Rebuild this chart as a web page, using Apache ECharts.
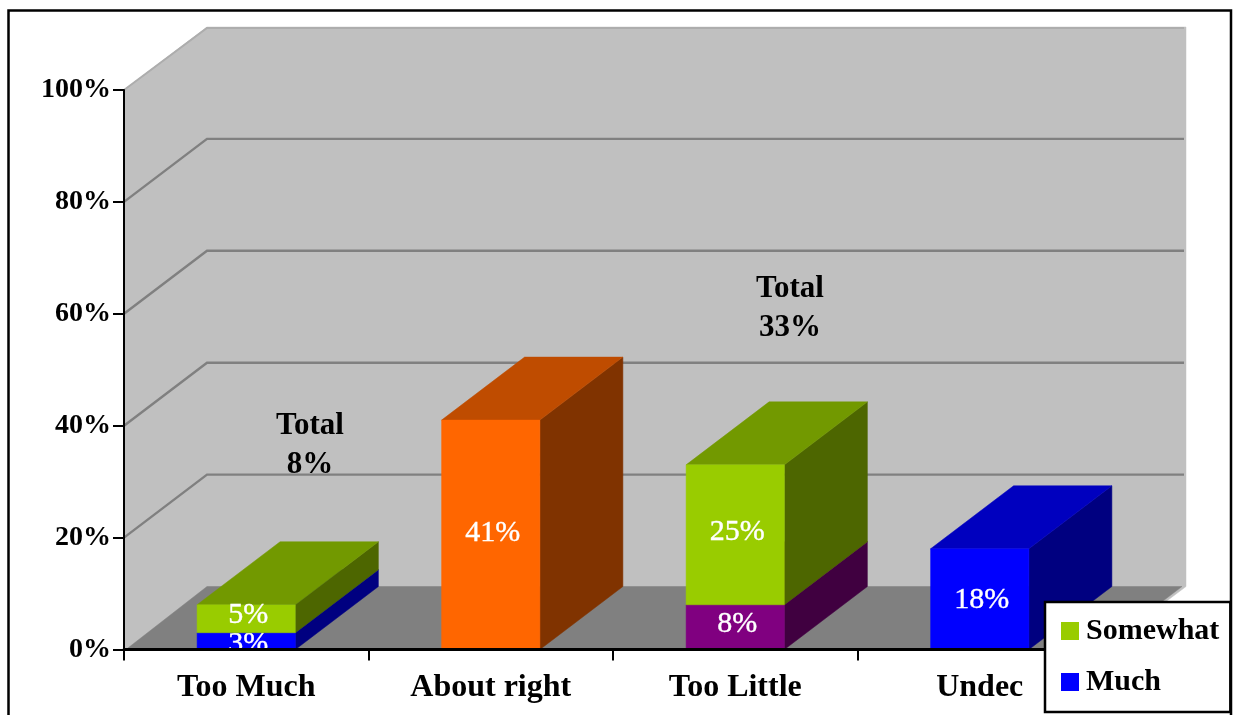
<!DOCTYPE html>
<html>
<head>
<meta charset="utf-8">
<title>Too Much, About right, Too Little</title>
<script src="https://cdn.jsdelivr.net/npm/echarts@6/dist/echarts.min.js"></script>
<style>
  html, body { margin: 0; padding: 0; background: #fff; }
  #chart { width: 1235px; height: 715px; }
</style>
</head>
<body>
<div id="chart"></div>
<script>
// Survey results, in percent
const categories = ['Too Much', 'About right', 'Too Little', 'Undec'];
const muchValues = [3, 41, 8, 18];
const somewhatValues = [5, null, 25, null];
const gridValues = [20, 40, 60, 80];
const yMax = 100;

// Front, top and side shades for each segment
const muchPalette = [
  ['#0000FF', '#0000BF', '#000080'],
  ['#FF6600', '#BF4C00', '#803300'],
  ['#800080', '#600060', '#400040'],
  ['#0000FF', '#0000BF', '#000080']
];
const somewhatPalette = [
  ['#99CC00', '#729900', '#4D6600'],
  null,
  ['#99CC00', '#729900', '#4D6600'],
  null
];

// Vertical nudge for the value labels inside each segment
const muchLabelNudge = [3, -2, -3, 1];
const somewhatLabelNudge = [-4, 0, -3, 0];

// Oblique projection used for the box depth
const DEPTH_X = 83;
const DEPTH_Y = -63;
const BAR_SHARE = 0.402;
const SERIF = '"Liberation Serif", serif';

function poly(points, fill) {
  return { type: 'polygon', shape: { points }, style: { fill, stroke: fill, lineWidth: 0.5 } };
}

// Draws one stacked segment as a front face, a top face and a side face
function renderSegment(palette, labelNudge) {
  return function (params, api) {
    const idx = api.value(0);
    const low = api.value(1);
    const high = api.value(2);
    if (isNaN(high) || !palette[idx]) return;
    const half = api.size([1, 0])[0] * BAR_SHARE / 2;
    const a = api.coord([idx, low]);
    const b = api.coord([idx, high]);
    const x0 = a[0] - half, x1 = a[0] + half;
    const [front, top, side] = palette[idx];
    const plot = params.coordSys;
    return {
      type: 'group',
      children: [
        poly([[x1, b[1]], [x1 + DEPTH_X, b[1] + DEPTH_Y], [x1 + DEPTH_X, a[1] + DEPTH_Y], [x1, a[1]]], side),
        poly([[x0, b[1]], [x0 + DEPTH_X, b[1] + DEPTH_Y], [x1 + DEPTH_X, b[1] + DEPTH_Y], [x1, b[1]]], top),
        poly([[x0, a[1]], [x0, b[1]], [x1, b[1]], [x1, a[1]]], front),
        {
          type: 'group',
          clipPath: { type: 'rect', shape: { x: x0, y: b[1] - 10, width: x1 - x0, height: plot.y + plot.height - b[1] + 10 } },
          children: [{
            type: 'text',
            x: a[0] + 2,
            y: (a[1] + b[1]) / 2 + labelNudge[idx],
            style: {
              text: (high - low) + '%',
              fill: '#fff',
              stroke: '#fff',
              lineWidth: 0.4,
              font: '30px ' + SERIF,
              align: 'center',
              verticalAlign: 'middle'
            }
          }]
        }
      ]
    };
  };
}

// Back wall, side wall, floor and the gridlines running across them
function renderRoom(params, api) {
  const p = params.coordSys;
  const left = p.x, right = p.x + p.width, top = p.y, bottom = p.y + p.height;
  const children = [
    poly([[left, top], [left + DEPTH_X, top + DEPTH_Y], [right + DEPTH_X + 1, top + DEPTH_Y],
          [right + DEPTH_X + 1, bottom + DEPTH_Y], [right, bottom], [left, bottom]], '#C0C0C0'),
    poly([[left + 2, bottom], [left + DEPTH_X, bottom + DEPTH_Y], [right + DEPTH_X - 3, bottom + DEPTH_Y], [right - 3, bottom]], '#808080'),
    {
      type: 'polyline',
      shape: { points: [[left, top], [left + DEPTH_X, top + DEPTH_Y + 1], [right + DEPTH_X - 1, top + DEPTH_Y + 1]] },
      style: { stroke: '#ADADAD', lineWidth: 2, fill: 'none' }
    }
  ];
  gridValues.forEach(function (v) {
    const y = api.coord([0, v])[1];
    children.push({
      type: 'polyline',
      shape: { points: [[left, y], [left + DEPTH_X, y + DEPTH_Y], [right + DEPTH_X - 1, y + DEPTH_Y]] },
      style: { stroke: '#808080', lineWidth: 2.4, fill: 'none' }
    });
  });
  return { type: 'group', children };
}

function segmentData(lower, upper) {
  return categories.map(function (c, i) {
    if (upper[i] == null) return [i, null, null];
    const base = lower ? (lower[i] || 0) : 0;
    return [i, base, base + upper[i]];
  });
}

const chart = echarts.init(document.getElementById('chart'), null, { renderer: 'canvas' });

chart.setOption({
  animation: false,
  backgroundColor: '#fff',
  textStyle: { fontFamily: SERIF },
  grid: { left: 124, top: 90, right: 133, bottom: 65.5 },
  graphic: [
    {
      type: 'rect',
      z: 0,
      shape: { x: 8.5, y: 10.5, width: 1222.5, height: 740 },
      style: { fill: 'none', stroke: '#000', lineWidth: 2.5 }
    },
    {
      type: 'text', z: 10, x: 310, y: 445,
      style: { text: 'Total\n8%', fill: '#000', font: 'bold 31px ' + SERIF, lineHeight: 39, align: 'center', verticalAlign: 'middle' }
    },
    {
      type: 'text', z: 10, x: 790, y: 308,
      style: { text: 'Total\n33%', fill: '#000', font: 'bold 31px ' + SERIF, lineHeight: 39, align: 'center', verticalAlign: 'middle' }
    }
  ],
  legend: {
    z: 20,
    left: 1045,
    top: 602,
    orient: 'vertical',
    data: [
      { name: 'Somewhat', icon: 'rect' },
      { name: 'Much', icon: 'rect' }
    ],
    selectedMode: false,
    backgroundColor: '#fff',
    borderColor: '#000',
    borderWidth: 2.5,
    borderRadius: 0,
    itemWidth: 18,
    itemHeight: 18,
    itemGap: 21,
    padding: [14, 11, 15, 16],
    textStyle: { fontFamily: SERIF, fontWeight: 'bold', fontSize: 30, color: '#000', padding: [2, 0, 0, 2] }
  },
  xAxis: {
    type: 'category',
    data: categories,
    z: 5,
    axisLine: { lineStyle: { color: '#000', width: 3 } },
    axisTick: { show: true, length: 11, lineStyle: { color: '#000', width: 2 } },
    axisLabel: { color: '#000', fontFamily: SERIF, fontWeight: 'bold', fontSize: 32, margin: 22 }
  },
  yAxis: {
    type: 'value',
    min: 0,
    max: yMax,
    interval: 20,
    z: 5,
    splitLine: { show: false },
    axisLine: { show: true, lineStyle: { color: '#000', width: 2 } },
    axisTick: { show: true, length: 11, lineStyle: { color: '#000', width: 2 } },
    axisLabel: { color: '#000', fontFamily: SERIF, fontWeight: 'bold', fontSize: 28, margin: 13, padding: [3, 0, 0, 0], formatter: '{value}%' }
  },
  series: [
    {
      type: 'custom',
      name: 'Room',
      z: 1,
      silent: true,
      data: [[0, 0]],
      renderItem: renderRoom,
      encode: { x: 0, y: 1 }
    },
    {
      type: 'custom',
      name: 'Much',
      z: 2,
      itemStyle: { color: '#0000FF' },
      data: segmentData(null, muchValues),
      renderItem: renderSegment(muchPalette, muchLabelNudge),
      encode: { x: 0, y: [1, 2] }
    },
    {
      type: 'custom',
      name: 'Somewhat',
      z: 2,
      itemStyle: { color: '#99CC00' },
      data: segmentData(muchValues, somewhatValues),
      renderItem: renderSegment(somewhatPalette, somewhatLabelNudge),
      encode: { x: 0, y: [1, 2] }
    }
  ]
});
</script>
</body>
</html>
